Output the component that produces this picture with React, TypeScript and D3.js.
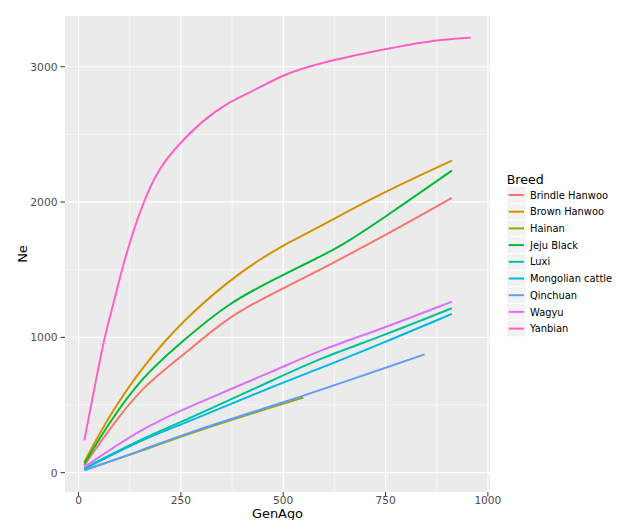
import React from "react";
import * as d3 from "d3";

const breeds = ["Brindle Hanwoo", "Brown Hanwoo", "Hainan", "Jeju Black", "Luxi", "Mongolian cattle", "Qinchuan", "Wagyu", "Yanbian"];
const colors = ["#F8766D", "#D39200", "#93AA00", "#00BA38", "#00C19F", "#00B9E3", "#619CFF", "#DB72FB", "#FF61C3"];

const brindleHanwoo: [number, number][] = [[14, 54], [73, 313], [155, 634], [255, 866], [370, 1165], [492, 1350], [590, 1500], [737, 1733], [912, 2030]];
const brownHanwoo: [number, number][] = [[14, 79], [73, 412], [155, 782], [260, 1141], [370, 1424], [444, 1580], [517, 1708], [590, 1819], [737, 2061], [912, 2306]];
const hainan: [number, number][] = [[14, 20], [155, 160], [260, 282], [549, 556]];
const jejuBlack: [number, number][] = [[14, 67], [73, 363], [155, 708], [255, 975], [370, 1264], [492, 1449], [590, 1597], [639, 1671], [737, 1864], [912, 2232]];
const luxi: [number, number][] = [[14, 32], [155, 252], [255, 378], [492, 708], [590, 844], [737, 1004], [912, 1215]];
const mongolian: [number, number][] = [[14, 28], [155, 245], [255, 360], [492, 659], [590, 770], [737, 950], [912, 1173]];
const qinchuan: [number, number][] = [[14, 17], [155, 165], [260, 289], [492, 511], [590, 610], [761, 787], [845, 874]];
const wagyu: [number, number][] = [[14, 41], [155, 326], [255, 470], [492, 770], [590, 906], [737, 1059], [912, 1264]];
const yanbian: [number, number][] = [[14, 239], [41, 659], [65, 1030], [88, 1276], [111, 1573], [159, 2017], [199, 2264], [248, 2437], [297, 2585], [362, 2733], [435, 2832], [500, 2943], [590, 3030], [745, 3128], [867, 3197], [958, 3215]];

const seriesData = [brindleHanwoo, brownHanwoo, hainan, jejuBlack, luxi, mongolian, qinchuan, wagyu, yanbian];

const xTicks = [0, 250, 500, 750, 1000];
const xMinor = [125, 375, 625, 875];
const yTicks = [0, 1000, 2000, 3000];
const yMinor = [500, 1500, 2500];

const FONT = "'DejaVu Sans', sans-serif";

export default function App() {
  const left = 65, right = 490, top = 16, bottom = 492;
  const all = seriesData.flat();
  const xExt = d3.extent(all, (d) => d[0]) as [number, number];
  const yExt = d3.extent(all, (d) => d[1]) as [number, number];
  const xPad = (xExt[1] - xExt[0]) * 0.05;
  const yPad = (yExt[1] - yExt[0]) * 0.05;
  const x = d3.scaleLinear().domain([xExt[0] - xPad, xExt[1] + xPad]).range([left, right]);
  const y = d3.scaleLinear().domain([yExt[0] - yPad, yExt[1] + yPad]).range([bottom, top]);
  const line = d3
    .line<[number, number]>()
    .x((d) => x(d[0]))
    .y((d) => y(d[1]))
    .curve(d3.curveBasis);

  const legX = 506.7, legY0 = 195, legStep = 16.7;

  return (
    <svg width={619} height={520} style={{ position: "absolute", left: 0, top: 0, background: "#fff" }}>
      <rect x={left} y={top} width={right - left} height={bottom - top} fill="#EBEBEB" />
      {xMinor.map((t) => (
        <line key={"xm" + t} x1={x(t)} x2={x(t)} y1={top} y2={bottom} stroke="#fff" strokeWidth={0.6} />
      ))}
      {yMinor.map((t) => (
        <line key={"ym" + t} x1={left} x2={right} y1={y(t)} y2={y(t)} stroke="#fff" strokeWidth={0.6} />
      ))}
      {xTicks.map((t) => (
        <line key={"xg" + t} x1={x(t)} x2={x(t)} y1={top} y2={bottom} stroke="#fff" strokeWidth={1.2} />
      ))}
      {yTicks.map((t) => (
        <line key={"yg" + t} x1={left} x2={right} y1={y(t)} y2={y(t)} stroke="#fff" strokeWidth={1.2} />
      ))}
      {seriesData.map((s, i) => (
        <path key={breeds[i]} d={line(s) || ""} fill="none" stroke={colors[i]} strokeWidth={2} strokeLinejoin="round" strokeLinecap="butt" />
      ))}
      {yTicks.map((t) => (
        <g key={"yt" + t}>
          <line x1={left - 4.5} x2={left} y1={y(t)} y2={y(t)} stroke="#333" strokeWidth={1} />
          <text x={left - 7.5} y={y(t) + 3.9} textAnchor="end" fontFamily={FONT} fontSize={10.7} fill="#4D4D4D">
            {t}
          </text>
        </g>
      ))}
      {xTicks.map((t) => (
        <g key={"xt" + t}>
          <line x1={x(t)} x2={x(t)} y1={bottom} y2={bottom + 4.5} stroke="#333" strokeWidth={1} />
          <text x={x(t)} y={504.3} textAnchor="middle" fontFamily={FONT} fontSize={10.6} fill="#4D4D4D">
            {t}
          </text>
        </g>
      ))}
      <text x={(left + right) / 2} y={518.3} textAnchor="middle" fontFamily={FONT} fontSize={12.9} fill="#000">
        GenAgo
      </text>
      <text transform={`translate(27,${(top + bottom) / 2}) rotate(-90)`} textAnchor="middle" fontFamily={FONT} fontSize={13} fill="#000">
        Ne
      </text>
      <text x={legX} y={184} fontFamily={FONT} fontSize={12.6} fill="#000">
        Breed
      </text>
      {breeds.map((b, i) => {
        const cy = legY0 + i * legStep;
        return (
          <g key={"lg" + b}>
            <rect x={legX} y={cy - legStep / 2} width={19.3} height={legStep} fill="#F2F2F2" stroke="#fff" strokeWidth={1} />
            <line x1={legX + 2} x2={legX + 17.3} y1={cy} y2={cy} stroke={colors[i]} strokeWidth={2} />
            <text x={530} y={cy + 3.6} fontFamily={FONT} fontSize={9.9} fill="#000">
              {b}
            </text>
          </g>
        );
      })}
    </svg>
  );
}
